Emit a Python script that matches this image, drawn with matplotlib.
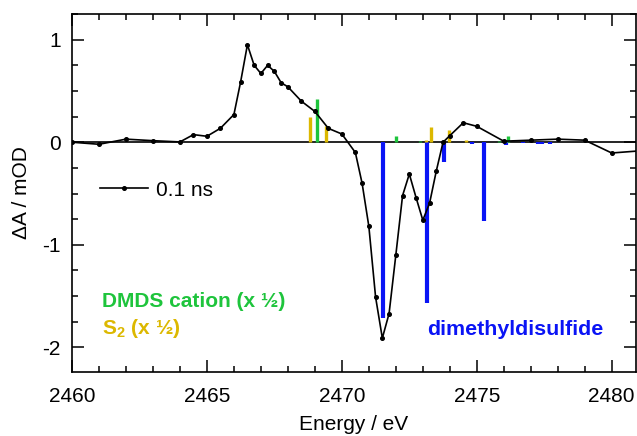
import matplotlib
matplotlib.use('Agg')
import matplotlib.pyplot as plt
from matplotlib.ticker import MultipleLocator

plt.rcParams['font.family'] = ['Liberation Sans', 'DejaVu Sans']
plt.rcParams['mathtext.fontset'] = 'custom'
plt.rcParams['mathtext.rm'] = 'Liberation Sans'
plt.rcParams['mathtext.bf'] = 'Liberation Sans:bold'
plt.rcParams['axes.unicode_minus'] = False

# transient spectrum at 0.1 ns
energy = [2460.0, 2461.0, 2462.0, 2463.0, 2464.0, 2464.5, 2465.0, 2465.5, 2466.0,
          2466.25, 2466.5, 2466.75, 2467.0, 2467.25, 2467.5, 2467.75, 2468.0,
          2468.5, 2469.0, 2469.5, 2470.0, 2470.5, 2470.75, 2471.0, 2471.25,
          2471.5, 2471.75, 2472.0, 2472.25, 2472.5, 2472.75, 2473.0, 2473.25,
          2473.5, 2473.75, 2474.0, 2474.5, 2475.0, 2476.0, 2477.0, 2478.0,
          2479.0, 2480.0, 2481.0]
dA = [0.0, -0.02, 0.03, 0.015, 0.003, 0.074, 0.058, 0.136, 0.27,
      0.59, 0.95, 0.75, 0.67, 0.75, 0.69, 0.58, 0.54,
      0.40, 0.30, 0.135, 0.08, -0.10, -0.40, -0.82, -1.51,
      -1.91, -1.67, -1.10, -0.52, -0.31, -0.54, -0.76, -0.595,
      -0.28, 0.0, 0.064, 0.19, 0.155, 0.01, 0.02, 0.03,
      0.02, -0.105, -0.085]

# calculated stick spectra
dmds_E = [2471.53, 2473.14, 2473.77, 2474.83, 2475.26, 2476.07, 2476.72,
          2477.25, 2477.43, 2477.73]
dmds_I = [-1.71, -1.57, -0.19, -0.02, -0.765, -0.03, -0.012, -0.02, -0.02, -0.015]

cation_E = [2469.07, 2471.99, 2472.91, 2475.83, 2476.16]
cation_I = [0.42, 0.065, 0.012, 0.012, 0.065]

s2_E = [2468.83, 2469.40, 2473.10, 2473.32, 2473.98, 2474.59]
s2_I = [0.25, 0.16, 0.02, 0.145, 0.12, 0.02]

blue = '#0a14f5'
green = '#1ec43c'
gold = '#dcb800'

fig = plt.figure(figsize=(6.37, 4.36), dpi=100)
ax = fig.add_axes([72 / 637, 1 - 372 / 436, 564 / 637, 358 / 436])

ax.axhline(0, color='black', lw=1.2, zorder=1)
ax.vlines(dmds_E, 0, dmds_I, color=blue, lw=3.0, zorder=2)
ax.vlines(cation_E, 0, cation_I, color=green, lw=2.4, zorder=2)
ax.vlines(s2_E, 0, s2_I, color=gold, lw=2.4, zorder=2)
ax.plot(energy, dA, color='black', lw=1.2, marker='o', ms=2.6, label='0.1 ns', zorder=3)

ax.set_xlim(2460, 2480.9)
ax.set_ylim(-2.24, 1.25)
ax.xaxis.set_major_locator(MultipleLocator(5))
ax.xaxis.set_minor_locator(MultipleLocator(1))
ax.yaxis.set_major_locator(MultipleLocator(1))
ax.yaxis.set_minor_locator(MultipleLocator(0.25))
ax.tick_params(which='both', direction='in', top=True, right=True, width=1.1,
               labelsize=15)
ax.tick_params(which='major', length=8.5)
ax.tick_params(which='minor', length=4.3)
ax.tick_params(axis='x', pad=11)
ax.tick_params(axis='y', pad=8)
for s in ax.spines.values():
    s.set_linewidth(1.2)

ax.set_xlabel('Energy / eV', fontsize=15, labelpad=6)
ax.set_ylabel('ΔA / mOD', fontsize=15, labelpad=8)

ax.legend(loc='center left', bbox_to_anchor=(0.0496, 0.508), frameon=False,
          fontsize=15, handlelength=2.3, handletextpad=0.4, borderpad=0,
          borderaxespad=0, numpoints=1)

ax.text(2461.1, -1.55, 'DMDS cation (x ½)', color=green, fontsize=15,
        fontweight='bold', ha='left', va='center')
ax.text(2461.1, -1.82, r'$\mathbf{S}_\mathbf{2}$ (x ½)', color=gold, fontsize=15,
        fontweight='bold', ha='left', va='center')
ax.text(2473.15, -1.83, 'dimethyldisulfide', color=blue, fontsize=15.4,
        fontweight='bold', ha='left', va='center')

fig.savefig('out.png', dpi=100)
